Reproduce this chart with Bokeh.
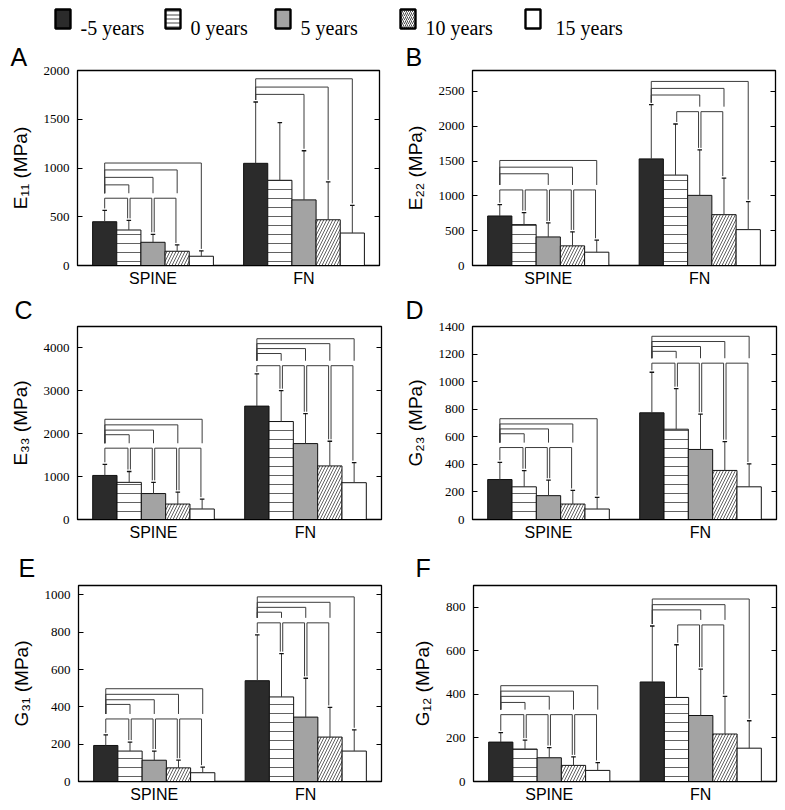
from bokeh.plotting import figure
from bokeh.models import Range1d, FixedTicker, LinearAxis, ColumnDataSource
from bokeh.layouts import column, row
from bokeh.embed import file_html
from bokeh.resources import INLINE
from bokeh.core.properties import value

groups = ["SPINE", "FN"]
series = ["-5 years", "0 years", "5 years", "10 years", "15 years"]

# ---------------- Panel A : E11 ----------------
e11_spine_mean = [449, 364, 238, 146, 95]
e11_spine_sd = [116, 99, 82, 65, 55]
e11_fn_mean = [1048, 874, 673, 469, 333]
e11_fn_sd = [629, 592, 504, 388, 283]
e11_ticks = [0, 500, 1000, 1500, 2000]
e11_ymax = 2000
e11_spine_up_to = [4, 3, 2, 1]
e11_spine_up_h = [1051, 980, 904, 827]
e11_spine_adj_h = 690
e11_spine_adj_pairs = [0, 1, 2]
e11_fn_up_to = [4, 3, 2]
e11_fn_up_h = [1915, 1830, 1755]
e11_fn_adj_h = None
e11_fn_adj_pairs = []

# ---------------- Panel B : E22 ----------------
e22_spine_mean = [711, 587, 410, 282, 191]
e22_spine_sd = [162, 172, 201, 200, 172]
e22_fn_mean = [1531, 1298, 1007, 730, 515]
e22_fn_sd = [778, 734, 653, 525, 401]
e22_ticks = [0, 500, 1000, 1500, 2000, 2500]
e22_ymax = 2800
e22_spine_up_to = [4, 3, 2]
e22_spine_up_h = [1508, 1412, 1317]
e22_spine_adj_h = 1085
e22_spine_adj_pairs = [0, 1, 2, 3]
e22_fn_up_to = [4, 3, 2]
e22_fn_up_h = [2643, 2543, 2448]
e22_fn_adj_h = 2209
e22_fn_adj_pairs = [1, 2]

# ---------------- Panel C : E33 ----------------
e33_spine_mean = [1027, 866, 605, 360, 245]
e33_spine_sd = [260, 253, 261, 276, 230]
e33_fn_mean = [2644, 2284, 1770, 1249, 858]
e33_fn_sd = [751, 720, 697, 575, 468]
e33_ticks = [0, 1000, 2000, 3000, 4000]
e33_ymax = 4500
e33_spine_up_to = [4, 3, 2, 1]
e33_spine_up_h = [2337, 2207, 2084, 1977]
e33_spine_adj_h = 1663
e33_spine_adj_pairs = [0, 1, 2, 3]
e33_fn_up_to = [4, 3, 2, 1]
e33_fn_up_h = [4215, 4100, 3985, 3870]
e33_fn_adj_h = 3586
e33_fn_adj_pairs = [0, 1, 2, 3]

# ---------------- Panel D : G23 ----------------
g23_spine_mean = [290, 237, 173, 112, 76]
g23_spine_sd = [125, 117, 112, 99, 85]
g23_fn_mean = [774, 655, 508, 356, 237]
g23_fn_sd = [294, 294, 256, 209, 166]
g23_ticks = [0, 200, 400, 600, 800, 1000, 1200, 1400]
g23_ymax = 1400
g23_spine_up_to = [4, 3, 2, 1]
g23_spine_up_h = [731, 693, 657, 622]
g23_spine_adj_h = 522
g23_spine_adj_pairs = [0, 1, 2]
g23_fn_up_to = [4, 3, 2, 1]
g23_fn_up_h = [1329, 1291, 1255, 1220]
g23_fn_adj_h = 1134
g23_fn_adj_pairs = [0, 1, 2, 3]

# ---------------- Panel E : G31 ----------------
g31_spine_mean = [193, 163, 114, 73, 47]
g31_spine_sd = [57, 48, 49, 41, 30]
g31_fn_mean = [540, 453, 345, 238, 163]
g31_fn_sd = [245, 232, 208, 159, 114]
g31_ticks = [0, 200, 400, 600, 800, 1000]
g31_ymax = 1050
g31_spine_up_to = [4, 3, 2, 1]
g31_spine_up_h = [497, 467, 438, 413]
g31_spine_adj_h = 335
g31_spine_adj_pairs = [0, 1, 2, 3]
g31_fn_up_to = [4, 3, 2, 1]
g31_fn_up_h = [989, 960, 933, 907]
g31_fn_adj_h = 850
g31_fn_adj_pairs = [0, 1, 2]

# ---------------- Panel F : G12 ----------------
g12_spine_mean = [181, 149, 109, 74, 51]
g12_spine_sd = [43, 41, 47, 39, 36]
g12_fn_mean = [457, 386, 303, 218, 153]
g12_fn_sd = [257, 242, 213, 173, 126]
g12_ticks = [0, 200, 400, 600, 800]
g12_ymax = 900
g12_spine_up_to = [4, 3, 2, 1]
g12_spine_up_h = [440, 415, 391, 363]
g12_spine_adj_h = 307
g12_spine_adj_pairs = [0, 1, 2, 3]
g12_fn_up_to = [4, 3, 2]
g12_fn_up_h = [838, 812, 788]
g12_fn_adj_h = 719
g12_fn_adj_pairs = [1, 2]

# ---------------- styles ----------------
FILLS = ["#2b2b2b", "#ffffff", "#a3a3a3", "#ffffff", "#ffffff"]
HATCH = ["blank", "horizontal_line", "blank", "right_diagonal_line", "blank"]
HATCH_SCALE = [9, 9, 9, 6, 9]
LINE = "#3c3c3c"
BAR_W = 0.16
GROUP_CENTERS = [0.5, 1.5]
OFFSETS = [(k - 2) * BAR_W for k in range(5)]


def make_panel(letter, ylabel, ymax, ticks, grp_data, width, height, bl, br, bt, bb,
               letter_dx, letter_standoff):
    p = figure(width=width, height=height, output_backend="svg", toolbar_location=None,
               x_range=Range1d(0, 2), y_range=Range1d(0, ymax),
               min_border_left=bl, min_border_right=br, min_border_top=bt, min_border_bottom=bb,
               background_fill_color="white", border_fill_color="white",
               title=letter, title_location="above")
    p.title.align = "left"
    p.title.offset = letter_dx
    p.title.text_font = "Liberation Sans"
    p.title.text_font_size = "25px"
    p.title.text_font_style = "normal"
    p.title.text_color = "black"
    p.title.standoff = letter_standoff
    p.xgrid.visible = False
    p.ygrid.visible = False
    p.outline_line_color = "black"
    p.outline_line_width = 1.3

    yax = p.yaxis[0]
    yax.ticker = FixedTicker(ticks=ticks)
    yax.major_tick_in = 5
    yax.major_tick_out = 0
    yax.minor_tick_in = 0
    yax.minor_tick_out = 0
    yax.major_label_text_font = "Liberation Serif"
    yax.major_label_text_font_size = "13px"
    yax.major_label_text_color = "black"
    yax.major_label_standoff = 8
    yax.axis_line_color = "black"
    yax.axis_label = ylabel
    yax.axis_label_text_font = "Liberation Sans"
    yax.axis_label_text_font_size = "19px"
    yax.axis_label_text_font_style = "normal"
    yax.axis_label_text_color = "black"
    yax.axis_label_standoff = 10

    xax = p.xaxis[0]
    xax.ticker = FixedTicker(ticks=GROUP_CENTERS)
    xax.major_label_overrides = {GROUP_CENTERS[i]: groups[i] for i in range(2)}
    xax.major_tick_in = 0
    xax.major_tick_out = 0
    xax.minor_tick_in = 0
    xax.minor_tick_out = 0
    xax.major_label_text_font = "Liberation Sans"
    xax.major_label_text_font_size = "16px"
    xax.major_label_text_color = "black"
    xax.major_label_standoff = 4
    xax.axis_line_color = "black"

    rax = LinearAxis(ticker=FixedTicker(ticks=ticks), major_tick_in=5, major_tick_out=0,
                     minor_tick_in=0, minor_tick_out=0, major_label_text_font_size="0px",
                     major_label_standoff=0, axis_line_color="black")
    rax.major_label_overrides = {t: "" for t in ticks}
    p.add_layout(rax, "right")

    bx, btop, bfill, bhatch, bscale = [], [], [], [], []
    ex, ey0, ey1 = [], [], []
    sx0, sy0, sx1, sy1 = [], [], [], []
    gap_err = ymax * 2.0 / 196
    gap_adj = ymax * 5.0 / 196
    d = 0.008
    cap = 0.015

    def seg(a, b, c, e):
        sx0.append(a); sy0.append(b); sx1.append(c); sy1.append(e)

    for g, (mean, sd, up_to, up_h, adj_h, adj_pairs) in enumerate(grp_data):
        xs = [GROUP_CENTERS[g] + o for o in OFFSETS]
        tops = [m + s for m, s in zip(mean, sd)]
        for k in range(5):
            bx.append(xs[k]); btop.append(mean[k]); bfill.append(FILLS[k])
            bhatch.append(HATCH[k]); bscale.append(HATCH_SCALE[k])
            ex.append(xs[k]); ey0.append(mean[k]); ey1.append(tops[k])
        involved = set()
        for i in adj_pairs:
            involved.update([i, i + 1])

        def floor(j):
            if adj_h is not None and j in involved:
                return adj_h + gap_adj
            return tops[j] + gap_err

        for j, h in zip(up_to, up_h):
            seg(xs[0], h, xs[j], h)
            seg(xs[0], h, xs[0], floor(0))
            seg(xs[j], h, xs[j], floor(j))
        for i in adj_pairs:
            xl = xs[i] + (d if i > 0 else 0)
            xr = xs[i + 1] - d
            seg(xl, adj_h, xr, adj_h)
            seg(xl, adj_h, xl, tops[i] + gap_err)
            seg(xr, adj_h, xr, tops[i + 1] + gap_err)

    src = ColumnDataSource(dict(x=bx, top=btop, fill=bfill, hatch=bhatch, hs=bscale))
    p.vbar(x="x", top="top", bottom=0, width=BAR_W, source=src, fill_color="fill",
           line_color="#111111", line_width=1, hatch_pattern="hatch", hatch_scale="hs",
           hatch_color="#3a3a3a", hatch_weight=0.8)
    p.segment(x0=ex, y0=ey0, x1=ex, y1=ey1, line_color=LINE, line_width=1)
    p.segment(x0=[x - cap for x in ex], y0=ey1, x1=[x + cap for x in ex], y1=ey1,
              line_color="#111111", line_width=1.3)
    p.segment(x0=sx0, y0=sy0, x1=sx1, y1=sy1, line_color=LINE, line_width=1)
    return p


def gdata(prefix):
    G = globals()
    out = []
    for grp in ["spine", "fn"]:
        out.append((G[f"{prefix}_{grp}_mean"], G[f"{prefix}_{grp}_sd"],
                    G[f"{prefix}_{grp}_up_to"], G[f"{prefix}_{grp}_up_h"],
                    G[f"{prefix}_{grp}_adj_h"], G[f"{prefix}_{grp}_adj_pairs"]))
    return out


#                                                                               w    h   bl  br  bt  bb  letter dx, standoff
pA = make_panel("A", "E\u2081\u2081 (MPa)", e11_ymax, e11_ticks, gdata("e11"), 400, 250, 77, 21, 29, 25, -67, 0)
pB = make_panel("B", "E\u2082\u2082 (MPa)", e22_ymax, e22_ticks, gdata("e22"), 385, 250, 72, 10, 29, 25, -67, 0)
pC = make_panel("C", "E\u2083\u2083 (MPa)", e33_ymax, e33_ticks, gdata("e33"), 400, 256, 77, 19, 34, 26, -63, 5)
pD = make_panel("D", "G\u2082\u2083 (MPa)", g23_ymax, g23_ticks, gdata("g23"), 385, 256, 72, 9, 33, 27, -67, 6)
pE = make_panel("E", "G\u2083\u2081 (MPa)", g31_ymax, g31_ticks, gdata("g31"), 400, 264, 78, 19, 39, 29, -60, 7)
pF = make_panel("F", "G\u2081\u2082 (MPa)", g12_ymax, g12_ticks, gdata("g12"), 385, 264, 73, 9, 39, 29, -58, 7)

# ---------------- legend strip (page pixel coordinates, y downward) ----------------
leg = figure(width=785, height=40, output_backend="svg", toolbar_location=None,
             x_range=Range1d(0, 785), y_range=Range1d(40, 0), x_axis_type=None, y_axis_type=None,
             min_border=0, min_border_left=0, min_border_right=0, min_border_top=0, min_border_bottom=0)
leg.xgrid.visible = False
leg.ygrid.visible = False
leg.outline_line_color = None
leg_box_x = [62.5, 172.5, 282.5, 407.5, 532.5]
leg_text_x = [80, 190, 300, 425, 555]
leg.rect(x=leg_box_x, y=[18.5] * 5, width=15, height=19, fill_color=FILLS, line_color="black",
         line_width=2.4, hatch_pattern=HATCH, hatch_scale=[4, 4, 4, 4, 4], hatch_color="#333333",
         hatch_weight=0.9)
leg.text(x=leg_text_x, y=[27] * 5, text=series, text_font=value("Liberation Serif"),
         text_font_size="20px", text_color="black", text_baseline="alphabetic")

layout = column(leg, row(pA, pB), row(pC, pD), row(pE, pF))

open("out.html", "w").write(file_html(layout, INLINE))
